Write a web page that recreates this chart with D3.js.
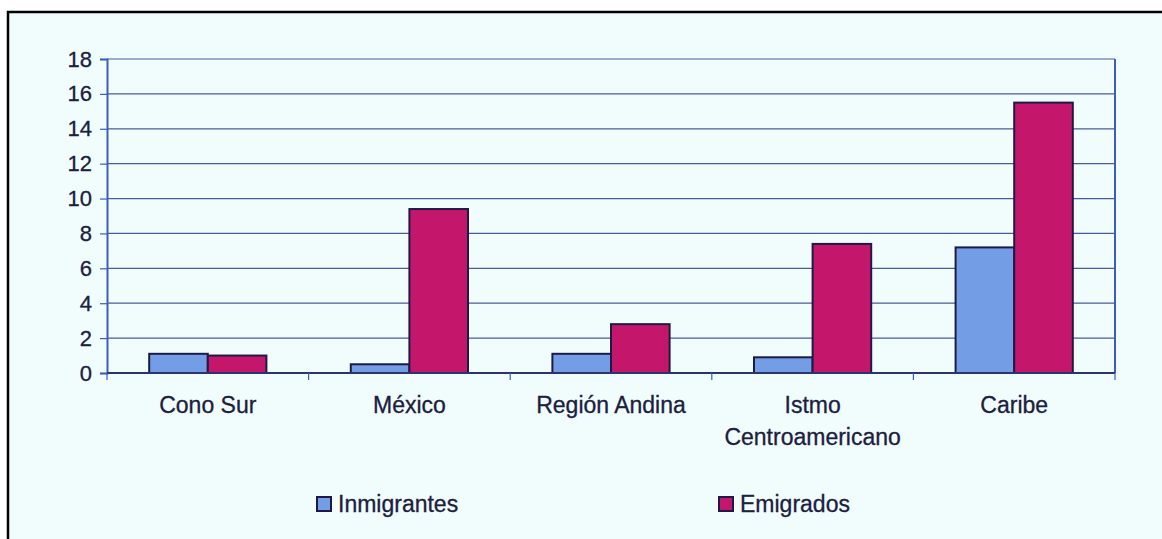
<!DOCTYPE html>
<html>
<head>
<meta charset="utf-8">
<script src="https://cdn.jsdelivr.net/npm/d3@7"></script>
<style>
  html, body { margin: 0; padding: 0; background: #fff; }
  svg { display: block; font-family: "Liberation Sans", Arial, sans-serif; }
</style>
</head>
<body>
<svg class="main-canvas" width="1162" height="539"></svg>
<script>
"use strict";

const categories = ["Cono Sur", "México", "Región Andina", "Istmo\nCentroamericano", "Caribe"];
const seriesNames = ["Inmigrantes", "Emigrados"];
const inmigrantes = [1.1, 0.5, 1.1, 0.9, 7.2];
const emigrados = [1.0, 9.4, 2.8, 7.4, 15.5];
const yTicks = [0, 2, 4, 6, 8, 10, 12, 14, 16, 18];
const colors = ["#739ee6", "#c4176b"];

let svg = d3.select('.main-canvas');

// Paper with black frame (right and bottom edges run off the picture)
svg.append('rect')
   .attr('x', 8).attr('y', 12)
   .attr('width', 1170).attr('height', 540)
   .attr('fill', '#f1fcfc')
   .attr('stroke', '#000')
   .attr('stroke-width', 2.5);

const plotLeft = 107, plotRight = 1115, plotTop = 59, plotBottom = 373;
const textColor = '#1b2040';

const x0 = d3.scaleBand()
             .domain(categories)
             .range([plotLeft, plotRight]);
const x1 = d3.scaleBand()
             .domain(seriesNames)
             .range([0, x0.bandwidth()])
             .paddingOuter(0.72);
const y = d3.scaleLinear()
            .domain([0, 18])
            .range([plotBottom, plotTop]);

// Gridlines
svg.append('g')
   .selectAll('line')
   .data(yTicks.filter(t => t > 0))
   .enter()
   .append('line')
   .attr('x1', plotLeft).attr('x2', plotRight)
   .attr('y1', d => y(d)).attr('y2', d => y(d))
   .attr('stroke', '#4a5b9c')
   .attr('stroke-width', 1.2);

// Y axis
let yAxis = svg.append('g')
               .attr('transform', `translate(${plotLeft},0)`)
               .call(d3.axisLeft(y).tickValues(yTicks).tickSize(7).tickPadding(8));
yAxis.select('.domain').attr('stroke', '#3c5cbf').attr('stroke-width', 2);
yAxis.selectAll('.tick line').attr('stroke', '#3c5cbf').attr('stroke-width', 1.2);
yAxis.selectAll('text')
     .attr('font-size', 22)
     .attr('fill', textColor)
     .attr('stroke', textColor)
     .attr('stroke-width', 0.3);

// Right frame of the plot area
svg.append('line')
   .attr('x1', plotRight).attr('x2', plotRight)
   .attr('y1', plotTop).attr('y2', plotBottom)
   .attr('stroke', '#3c5cbf')
   .attr('stroke-width', 2);

// Bars
let data = categories.map((c, i) => ({ cat: c, values: [inmigrantes[i], emigrados[i]] }));
svg.append('g')
   .selectAll('g')
   .data(data)
   .enter()
   .append('g')
   .attr('transform', d => `translate(${x0(d.cat)},0)`)
   .selectAll('rect')
   .data(d => d.values.map((v, j) => ({ name: seriesNames[j], value: v, j: j })))
   .enter()
   .append('rect')
   .attr('x', d => x1(d.name))
   .attr('y', d => y(d.value))
   .attr('width', x1.bandwidth())
   .attr('height', d => y(0) - y(d.value))
   .attr('fill', d => colors[d.j])
   .attr('stroke', '#1d1a48')
   .attr('stroke-width', 2);

// X axis (ticks between categories)
svg.append('line')
   .attr('x1', plotLeft).attr('x2', plotRight)
   .attr('y1', plotBottom).attr('y2', plotBottom)
   .attr('stroke', '#2a3570')
   .attr('stroke-width', 2);
let bounds = categories.map(c => x0(c)).concat([plotRight]);
svg.append('g')
   .selectAll('line')
   .data(bounds)
   .enter()
   .append('line')
   .attr('x1', d => d).attr('x2', d => d)
   .attr('y1', plotBottom).attr('y2', plotBottom + 7)
   .attr('stroke', '#3c5cbf')
   .attr('stroke-width', 1.2);

// Category labels
let labels = svg.append('g')
                .selectAll('text')
                .data(categories)
                .enter()
                .append('text')
                .attr('text-anchor', 'middle')
                .attr('font-size', 23)
                .attr('fill', textColor)
                .attr('stroke', textColor)
                .attr('stroke-width', 0.3)
                .attr('transform', d => `translate(${x0(d) + x0.bandwidth() / 2},413)`);
labels.selectAll('tspan')
      .data(d => d.split('\n'))
      .enter()
      .append('tspan')
      .attr('x', 0)
      .attr('dy', (d, i) => i === 0 ? 0 : 32)
      .text(d => d);

// Legend
const legendX = [317, 719];
let legend = svg.append('g')
                .selectAll('g')
                .data(seriesNames)
                .enter()
                .append('g')
                .attr('transform', (d, i) => `translate(${legendX[i]},497)`);
legend.append('rect')
      .attr('x', 0).attr('y', 0)
      .attr('width', 14).attr('height', 14)
      .attr('fill', (d, i) => colors[i])
      .attr('stroke', '#1d1a48')
      .attr('stroke-width', 2);
legend.append('text')
      .attr('x', 21).attr('y', 15)
      .attr('font-size', 23)
      .attr('fill', textColor)
      .attr('stroke', textColor)
      .attr('stroke-width', 0.3)
      .text(d => d);
</script>
</body>
</html>
